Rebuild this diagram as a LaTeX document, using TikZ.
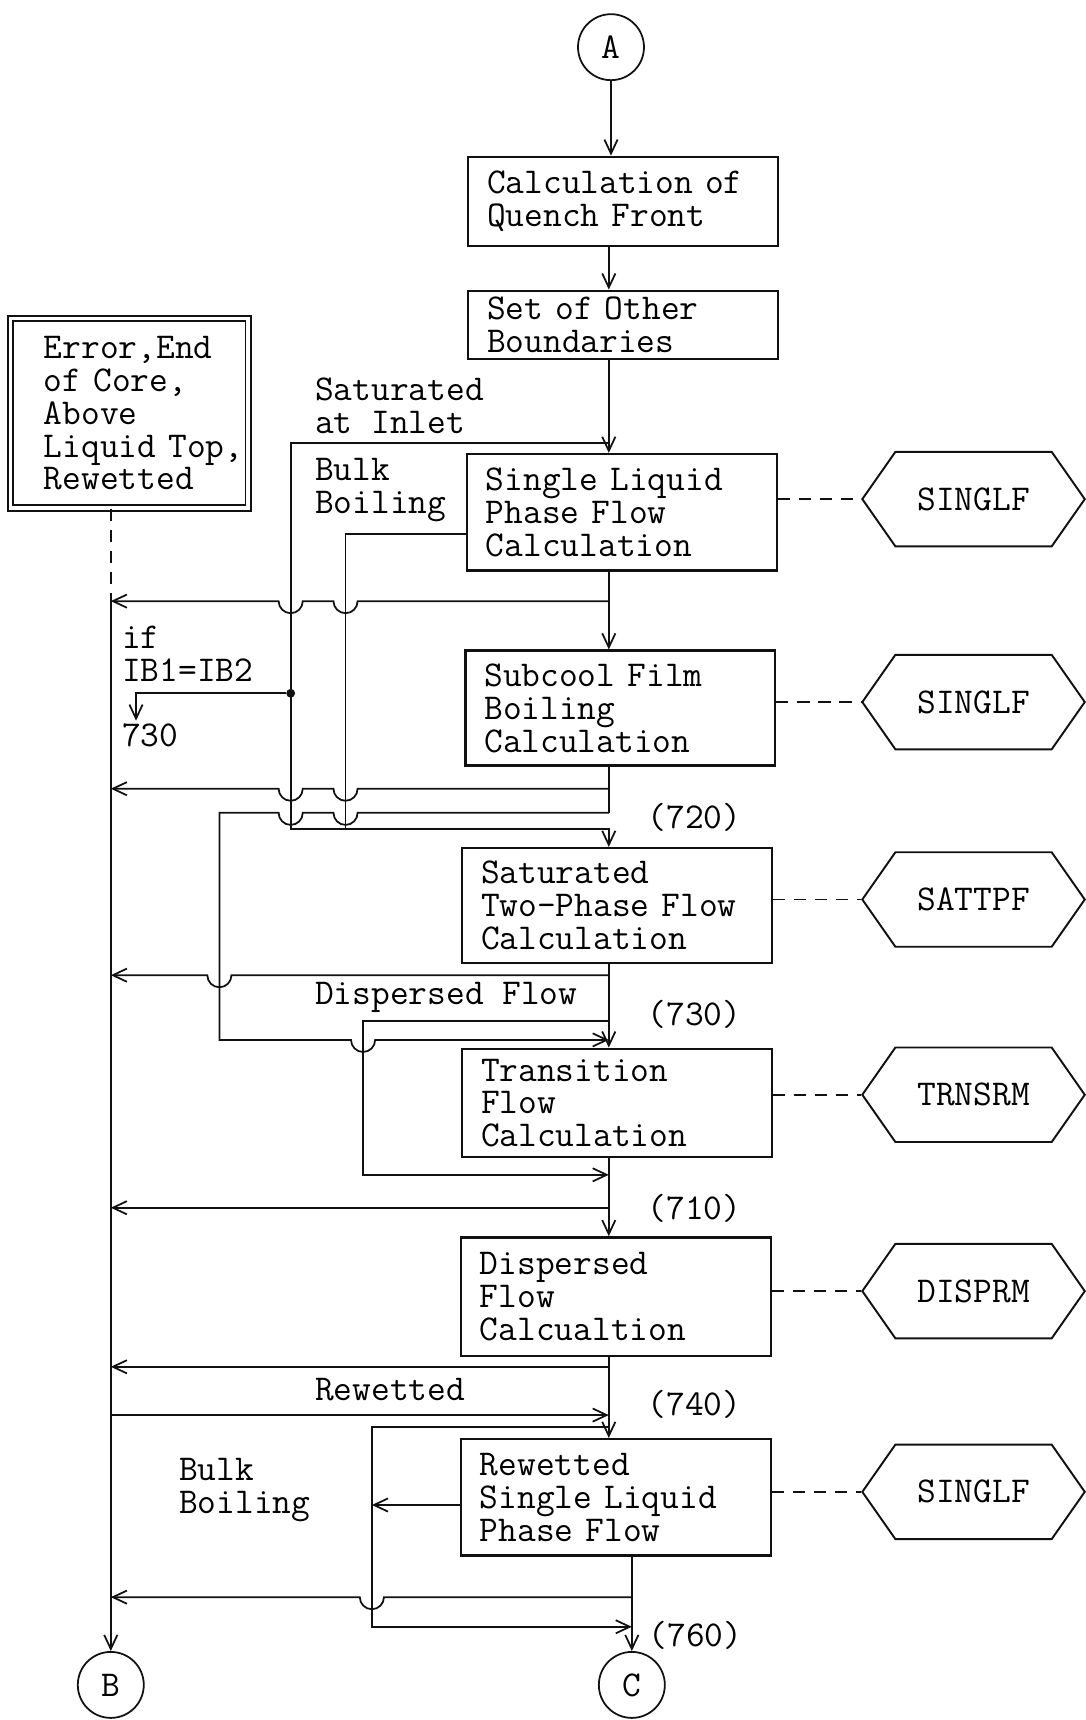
\documentclass[tikz,border=0pt]{standalone}
\usepackage{fontspec}
\usepackage{tikz}
\usetikzlibrary{arrows.meta,positioning,shapes.symbols,calc}
\definecolor{chartInk}{HTML}{111111}
\newcommand{\chartfont}{\fontsize{20.7pt}{18.7pt}\selectfont\ttfamily}
\tikzset{
  flowbox/.style={rectangle,draw=chartInk,line width=1.3pt,minimum width=6.19cm,
    text width=5.44cm,inner xsep=0pt,align=left,font=\chartfont},
  flowexit/.style={rectangle,draw=chartInk,double,double distance=2.2pt,line width=1pt,
    minimum width=4.76cm,minimum height=3.79cm,text width=3.42cm,inner xsep=0pt,
    align=left,font=\chartfont},
  flowsub/.style={signal,signal to=west and east,signal pointer angle=110,draw=chartInk,
    line width=1.1pt,minimum width=4.45cm,minimum height=1.89cm,inner sep=0pt,font=\chartfont},
  flowcircle/.style={circle,draw=chartInk,line width=1pt,minimum size=1.32cm,
    inner sep=0pt,font=\chartfont},
  flowlabel/.style={inner sep=0pt,align=left,font=\chartfont},
  flowdot/.style={circle,fill=chartInk,inner sep=0pt,minimum size=5pt},
  flowline/.style={draw=chartInk,line width=1pt},
  flowarrow/.style={flowline,-{Straight Barb[length=8pt,width=7.5pt]}},
  flowdash/.style={draw=chartInk,line width=1pt,dash pattern=on 7pt off 5pt},
  jumpleft/.style={insert path={arc[start angle=0,end angle=-180,radius=11]}},
  jumpright/.style={insert path={arc[start angle=180,end angle=360,radius=11]}}
}

\begin{document}
\begin{tikzpicture}[x=0.02194cm,y=0.02194cm]
  \useasboundingbox (0,0) rectangle (990,-1568);
  % main column
  \node[flowcircle] (A) at (557,-43) {A};
  \node[flowbox,minimum height=1.78cm] (qf) at (568,-183.5) {Calculation of\\Quench Front};
  \node[flowbox,minimum height=1.36cm] (sob) at (568,-296) {Set of Other\\Boundaries};
  \node[flowbox,minimum height=2.33cm] (slpf) at (567,-467) {Single Liquid\\Phase Flow\\Calculation};
  \node[flowbox,minimum height=2.3cm] (sfb) at (565.5,-645.5) {Subcool Film\\Boiling\\Calculation};
  \node[flowbox,minimum height=2.3cm] (stpf) at (562.5,-825.5) {Saturated\\Two-Phase Flow\\Calculation};
  \node[flowbox,minimum height=2.17cm] (tfc) at (562.5,-1005.5) {Transition\\Flow\\Calculation};
  \node[flowbox,minimum height=2.37cm] (dfc) at (561.5,-1182) {Dispersed\\Flow\\Calcualtion};
  \node[flowbox,minimum height=2.33cm] (rslpf) at (561.5,-1365) {Rewetted\\Single Liquid\\Phase Flow};
  \node[flowcircle] (B) at (101,-1536) {B};
  \node[flowcircle] (C) at (576,-1536) {C};
  \node[flowexit] (err) at (118,-376.75) {Error,End\\of~Core,\\Above\\Liquid~Top,\\Rewetted};
  % subprograms
  \node[flowsub] (h1) at (887.5,-455) {SINGLF};
  \node[flowsub] (h2) at (887.5,-640) {SINGLF};
  \node[flowsub] (h3) at (887.5,-820) {SATTPF};
  \node[flowsub] (h4) at (887.5,-998) {TRNSRM};
  \node[flowsub] (h5) at (887.5,-1177) {DISPRM};
  \node[flowsub] (h6) at (887.5,-1360) {SINGLF};
  % labels
  \node[flowlabel,anchor=west] (satlbl) at (287,-370) {Saturated\\at Inlet};
  \node[flowlabel,anchor=west] (bulklbl) at (287,-447) {Bulk\\Boiling};
  \node[flowlabel,anchor=west] (iflbl) at (111,-596) {if\\IB1=IB2};
  \node[flowlabel,anchor=west] (gotolbl) at (111,-670) {730};
  \node[flowlabel,anchor=west] (n720) at (590,-745) {(720)};
  \node[flowlabel,anchor=west] (dflbl) at (287,-909) {Dispersed Flow};
  \node[flowlabel,anchor=west] (n730) at (590,-925) {(730)};
  \node[flowlabel,anchor=west] (n710) at (590,-1102) {(710)};
  \node[flowlabel,anchor=west] (rwlbl) at (287,-1267) {Rewetted};
  \node[flowlabel,anchor=west] (n740) at (590,-1280) {(740)};
  \node[flowlabel,anchor=west] (bulklbl2) at (163,-1358) {Bulk\\Boiling};
  \node[flowlabel,anchor=west] (n760) at (591,-1491) {(760)};
  % junctions
  \coordinate (mx) at (555,0);
  \coordinate (lx) at (101,-548);
  \coordinate (sat) at (265,-404);
  \coordinate (blk) at (315,-487);
  \coordinate (j720) at (555,-756);
  \coordinate (skp) at (200,-741);
  \coordinate (j730) at (555,-948);
  \coordinate (dsp) at (331,-931);
  \coordinate (j710) at (555,-1071);
  \coordinate (rbb) at (339,-1301);
  \coordinate (rbbin) at (339,-1372);
  \coordinate (j760) at (576,-1483);
  \coordinate (goto730) at (124,-657);
  \coordinate (ret2) at (555,-719);
  \coordinate (ret3) at (555,-889);
  \coordinate (ret4) at (555,-1101);
  \coordinate (ret5) at (555,-1246);
  \coordinate (ret6) at (576,-1456);
  \coordinate (rwt) at (101,-1290);
  \node[flowdot] (ifdot) at (265,-632) {};
  % connectors
  \draw[flowarrow] (A) -- (A |- qf.north);
  \draw[flowarrow] (qf.south -| mx) -- (sob.north -| mx);
  \draw[flowarrow] (sob.south -| mx) -- (slpf.north -| mx);
  \draw[flowarrow] (sat -| mx) -- (sat) -- (sat |- j720) -- (j720) -- (stpf.north -| mx);
  \draw[flowline] (slpf.west |- blk) -- (blk) -- (blk |- j720);
  \draw[flowarrow] (slpf.south -| mx) -- (sfb.north -| mx);
  \draw[flowarrow] (lx -| mx) -- ($(lx -| blk)+(11,0)$) [jumpleft]
    -- ($(lx -| sat)+(11,0)$) [jumpleft] -- (lx);
  \draw[flowdash] (err.south -| lx) -- (lx);
  \draw[flowarrow] (lx) -- (B);
  \draw[flowarrow] (ifdot) -| (goto730);
  \draw[flowline] (sfb.south -| mx) -- (skp -| mx);
  \draw[flowarrow] (ret2) -- ($(ret2 -| blk)+(11,0)$) [jumpleft]
    -- ($(ret2 -| sat)+(11,0)$) [jumpleft] -- (ret2 -| lx);
  \draw[flowarrow] (skp -| mx) -- ($(skp -| blk)+(11,0)$) [jumpleft]
    -- ($(skp -| sat)+(11,0)$) [jumpleft] -- (skp) -- (skp |- j730)
    -- ($(j730 -| dsp)+(-11,0)$) [jumpright] -- (j730);
  \draw[flowarrow] (stpf.south -| mx) -- (tfc.north -| mx);
  \draw[flowarrow] (ret3) -- ($(ret3 -| skp)+(11,0)$) [jumpleft] -- (ret3 -| lx);
  \draw[flowarrow] (dsp -| mx) -- (dsp) -- (dsp |- j710) -- (j710);
  \draw[flowarrow] (tfc.south -| mx) -- (dfc.north -| mx);
  \draw[flowarrow] (ret4) -- (ret4 -| lx);
  \draw[flowarrow] (dfc.south -| mx) -- (rslpf.north -| mx);
  \draw[flowarrow] (ret5) -- (ret5 -| lx);
  \draw[flowarrow] (rwt) -- (rwt -| mx);
  \draw[flowarrow] (rslpf.west |- rbbin) -- (rbbin);
  \draw[flowarrow] (rbb -| mx) -- (rbb) -- (rbb |- j760) -- (j760);
  \draw[flowarrow] (rslpf.south -| C) -- (C);
  \draw[flowarrow] (ret6) -- ($(ret6 -| rbb)+(11,0)$) [jumpleft] -- (ret6 -| lx);
  % subprogram links
  \draw[flowdash] (slpf.east |- h1.west) -- (h1.west);
  \draw[flowdash] (sfb.east |- h2.west) -- (h2.west);
  \draw[flowdash] (stpf.east |- h3.west) -- (h3.west);
  \draw[flowdash] (tfc.east |- h4.west) -- (h4.west);
  \draw[flowdash] (dfc.east |- h5.west) -- (h5.west);
  \draw[flowdash] (rslpf.east |- h6.west) -- (h6.west);
\end{tikzpicture}
\end{document}
